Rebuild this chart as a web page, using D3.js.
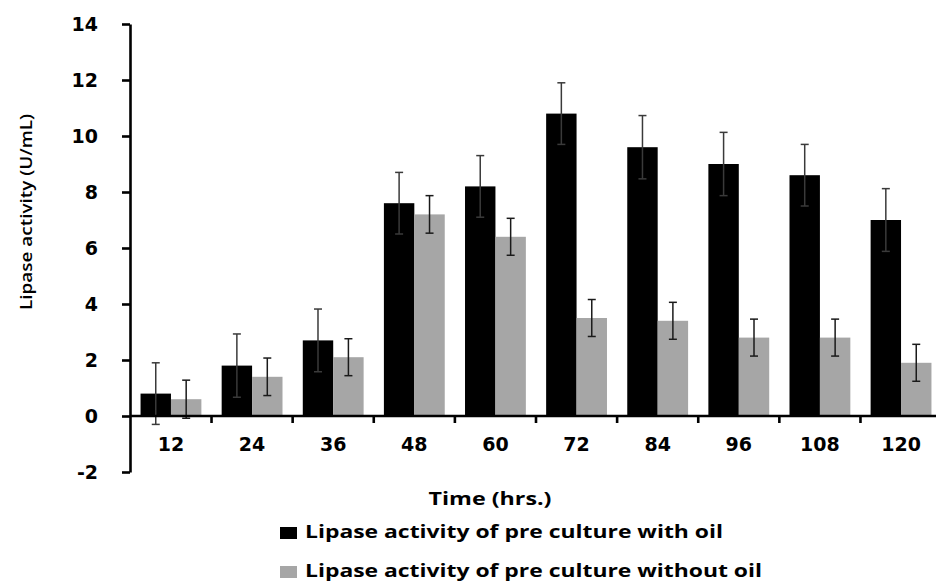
<!DOCTYPE html>
<html>
<head>
<meta charset="utf-8">
<script src="https://cdn.jsdelivr.net/npm/d3@7"></script>
<style>
  html, body { margin: 0; padding: 0; background: #fff; }
  svg { display: block; }
</style>
</head>
<body>
<svg id="chart" width="936" height="581"></svg>
<script>
// Sampling times (hrs.)
const times = ["12", "24", "36", "48", "60", "72", "84", "96", "108", "120"];
// Lipase activity (U/mL) of the pre culture with oil, and its standard deviation
const withOil = [0.8, 1.8, 2.7, 7.6, 8.2, 10.8, 9.6, 9.0, 8.6, 7.0];
const withOilErr = [1.1, 1.13, 1.12, 1.1, 1.1, 1.1, 1.13, 1.13, 1.1, 1.12];
// Lipase activity (U/mL) of the pre culture without oil, and its standard deviation
const withoutOil = [0.6, 1.4, 2.1, 7.2, 6.4, 3.5, 3.4, 2.8, 2.8, 1.9];
const withoutOilErr = [0.68, 0.67, 0.66, 0.67, 0.66, 0.66, 0.66, 0.66, 0.66, 0.66];
// Value axis ticks
const yTicks = [-2, 0, 2, 4, 6, 8, 10, 12, 14];
const seriesNames = ["Lipase activity of pre culture with oil", "Lipase activity of pre culture without oil"];
const seriesColors = ["#000000", "#a6a6a6"];

const svg = d3.select("#chart");
const plotLeft = 130, plotRight = 942, plotTop = 24, plotBottom = 472;

const y = d3.scaleLinear().domain([-2, 14]).range([plotBottom, plotTop]);
const x = d3.scaleBand().domain(times).range([plotLeft, plotRight]).paddingInner(0.25).paddingOuter(0.13);
const xs = d3.scaleBand().domain([0, 1]).range([0, x.bandwidth()]);

const rows = times.map((t, i) => ({
  t,
  vals: [
    { s: 0, v: withOil[i], e: withOilErr[i] },
    { s: 1, v: withoutOil[i], e: withoutOilErr[i] }
  ]
}));

const font = "'Open Sans', 'DejaVu Sans', sans-serif";
const tickFont = "'DejaVu Sans', Verdana, sans-serif";

// Bars
const groups = svg.append("g").selectAll("g").data(rows).join("g")
  .attr("transform", d => `translate(${x(d.t)},0)`);
groups.selectAll("rect").data(d => d.vals).join("rect")
  .attr("x", d => xs(d.s))
  .attr("width", xs.bandwidth())
  .attr("y", d => y(Math.max(0, d.v)))
  .attr("height", d => Math.abs(y(d.v) - y(0)))
  .attr("fill", d => seriesColors[d.s]);

// Error bars
const capW = 8;
const eb = groups.selectAll("g.err").data(d => d.vals).join("g").attr("class", "err")
  .attr("stroke", d => d.s === 0 ? "#3a3a3a" : "#1a1a1a")
  .attr("stroke-width", 1.5);
eb.append("line")
  .attr("x1", d => xs(d.s) + xs.bandwidth() / 2)
  .attr("x2", d => xs(d.s) + xs.bandwidth() / 2)
  .attr("y1", d => y(d.v + d.e)).attr("y2", d => y(d.v - d.e));
eb.append("line")
  .attr("x1", d => xs(d.s) + xs.bandwidth() / 2 - capW / 2)
  .attr("x2", d => xs(d.s) + xs.bandwidth() / 2 + capW / 2)
  .attr("y1", d => y(d.v + d.e)).attr("y2", d => y(d.v + d.e));
eb.append("line")
  .attr("x1", d => xs(d.s) + xs.bandwidth() / 2 - capW / 2)
  .attr("x2", d => xs(d.s) + xs.bandwidth() / 2 + capW / 2)
  .attr("y1", d => y(d.v - d.e)).attr("y2", d => y(d.v - d.e));

// Y axis
const yAxis = svg.append("g").attr("transform", `translate(${plotLeft},0)`)
  .call(d3.axisLeft(y).tickValues(yTicks).tickFormat(d => String(d))
    .tickSize(8).tickPadding(24).tickSizeOuter(0));
yAxis.select(".domain").attr("stroke", "#000").attr("stroke-width", 2.6);
yAxis.selectAll(".tick line").attr("stroke", "#000").attr("stroke-width", 2.6);
yAxis.selectAll(".tick text")
  .attr("font-family", tickFont)
  .attr("font-weight", "bold").attr("font-size", 19).attr("fill", "#000");

// X axis at zero, with small marks between the time groups
const xAxisG = svg.append("g").attr("transform", `translate(0,${y(0)})`);
xAxisG.append("line").attr("x1", plotLeft).attr("x2", plotRight).attr("stroke", "#000").attr("stroke-width", 2.6);
const step = x.step();
xAxisG.selectAll("line.sep").data(times.slice(1)).join("line").attr("class", "sep")
  .attr("x1", d => x(d) - x.paddingInner() * step / 2)
  .attr("x2", d => x(d) - x.paddingInner() * step / 2)
  .attr("y1", 0).attr("y2", 7)
  .attr("stroke", "#000").attr("stroke-width", 2.6);
xAxisG.selectAll("text").data(times).join("text")
  .attr("x", d => x(d) + x.bandwidth() / 2)
  .attr("y", 35)
  .attr("text-anchor", "middle")
  .attr("font-family", tickFont)
  .attr("font-weight", "bold").attr("font-size", 19).attr("fill", "#000")
  .text(d => d);

// Axis titles
svg.append("text")
  .attr("transform", `translate(32,212) rotate(-90)`)
  .attr("text-anchor", "middle")
  .attr("font-family", font).attr("font-weight", 600).attr("font-size", 16.5)
  .attr("textLength", 196).attr("lengthAdjust", "spacingAndGlyphs")
  .text("Lipase activity  (U/mL)");

svg.append("text")
  .attr("x", 490).attr("y", 505)
  .attr("text-anchor", "middle")
  .attr("font-family", font).attr("font-weight", "bold").attr("font-size", 17.5)
  .attr("textLength", 123).attr("lengthAdjust", "spacingAndGlyphs")
  .text("Time (hrs.)");

// Legend
const legendWidths = [418, 457];
const legend = svg.append("g").selectAll("g").data(seriesNames).join("g")
  .attr("transform", (d, i) => `translate(280,${538 + i * 39})`);
legend.append("rect")
  .attr("x", 0).attr("y", -11).attr("width", 17).attr("height", 12)
  .attr("fill", (d, i) => seriesColors[i]);
legend.append("text")
  .attr("x", 25).attr("y", 0)
  .attr("font-family", font).attr("font-weight", "bold").attr("font-size", 17.5)
  .attr("textLength", (d, i) => legendWidths[i]).attr("lengthAdjust", "spacingAndGlyphs")
  .text(d => d);
</script>
</body>
</html>
